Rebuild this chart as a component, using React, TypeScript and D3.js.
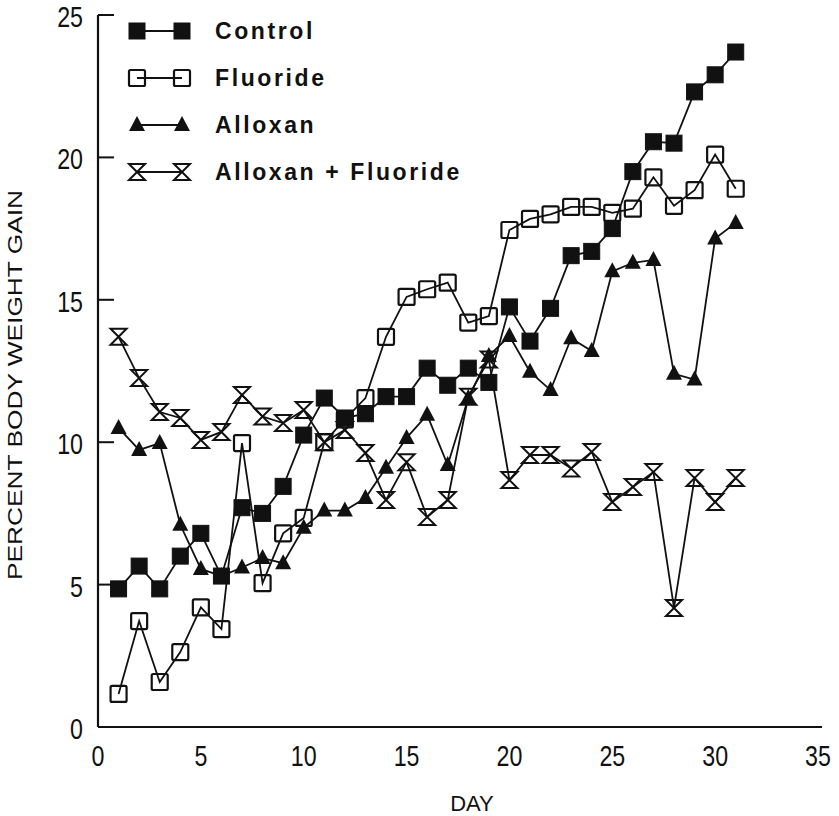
import React from "react";
import * as d3 from "d3";

// values (percent body weight gain per day)
const days = [1, 2, 3, 4, 5, 6, 7, 8, 9, 10, 11, 12, 13, 14, 15, 16, 17, 18, 19, 20, 21, 22, 23, 24, 25, 26, 27, 28, 29, 30, 31];
const control = [4.85, 5.65, 4.85, 6.0, 6.8, 5.3, 7.7, 7.5, 8.45, 10.25, 11.55, 10.85, 11.0, 11.6, 11.6, 12.6, 12.0, 12.6, 12.1, 14.75, 13.55, 14.7, 16.55, 16.7, 17.5, 19.5, 20.55, 20.5, 22.3, 22.9, 23.7];
const fluoride = [1.16, 3.72, 1.58, 2.63, 4.2, 3.44, 9.97, 5.05, 6.8, 7.34, 10.0, 10.8, 11.55, 13.7, 15.1, 15.37, 15.6, 14.2, 14.43, 17.45, 17.84, 18.0, 18.26, 18.26, 18.05, 18.2, 19.3, 18.3, 18.85, 20.1, 18.9];
const alloxan = [10.5, 9.73, 9.97, 7.1, 5.55, 5.3, 5.6, 5.93, 5.75, 7.0, 7.6, 7.6, 8.04, 9.1, 10.15, 10.96, 9.2, 11.55, 13.03, 13.73, 12.47, 11.83, 13.65, 13.2, 16.0, 16.3, 16.4, 12.4, 12.2, 17.15, 17.7];
const alloxanFluoride = [13.7, 12.25, 11.06, 10.85, 10.08, 10.36, 11.66, 10.9, 10.67, 11.13, 10.0, 10.43, 9.62, 7.97, 9.3, 7.37, 7.97, 11.6, 12.9, 8.67, 9.55, 9.55, 9.08, 9.66, 7.9, 8.43, 8.95, 4.18, 8.74, 7.9, 8.74];

const seriesNames = ["Control", "Fluoride", "Alloxan", "Alloxan + Fluoride"];
const xTicks = [0, 5, 10, 15, 20, 25, 30, 35];
const yTicks = [0, 5, 10, 15, 20, 25];

const W = 839;
const H = 816;
const sans = "'Liberation Sans', Arial, sans-serif";

const x = d3.scaleLinear().domain([0, 35]).range([98, 818]);
const y = d3.scaleLinear().domain([0, 25]).range([727, 15]);

// marker drawing per series
const Marker = ({ kind, cx, cy }: { kind: number; cx: number; cy: number }) => {
  if (kind === 0)
    return <rect x={cx - 8} y={cy - 8} width={16} height={16} fill="#111" stroke="#111" strokeWidth={1} />;
  if (kind === 1)
    return <rect x={cx - 8} y={cy - 8} width={16} height={16} rx={1.5} fill="none" stroke="#111" strokeWidth={2.2} />;
  if (kind === 2)
    return <path d={`M${cx},${cy - 9}L${cx + 8},${cy + 6}L${cx - 8},${cy + 6}Z`} fill="#111" />;
  return (
    <path
      d={`M${cx - 8},${cy - 8}H${cx + 8}L${cx - 8},${cy + 8}H${cx + 8}Z`}
      fill="none"
      stroke="#111"
      strokeWidth={2}
      strokeLinejoin="miter"
    />
  );
};

// condensed numerals like the original tick labels
const Num = ({ tx, ty, anchor, v }: { tx: number; ty: number; anchor: string; v: number }) => (
  <text
    transform={`translate(${tx},${ty}) scale(0.8,1)`}
    textAnchor={anchor}
    fontFamily={sans}
    fontSize={29}
    fill="#111"
  >
    {v}
  </text>
);

export default function App() {
  const all = [control, fluoride, alloxan, alloxanFluoride];
  const line = d3
    .line<number>()
    .x((_, i) => x(days[i]))
    .y((d) => y(d));

  return (
    <svg width={W} height={H} style={{ position: "absolute", left: 0, top: 0, background: "#fff" }}>
      {/* axes */}
      <line x1={x(0)} x2={x(0)} y1={y(25)} y2={y(0)} stroke="#111" strokeWidth={2.2} />
      <line x1={x(0)} x2={822} y1={y(0)} y2={y(0)} stroke="#111" strokeWidth={2.2} />
      {yTicks.map((t) => (
        <g key={t}>
          {t > 0 && <line x1={x(0)} x2={x(0) + 16} y1={y(t)} y2={y(t)} stroke="#111" strokeWidth={2} />}
          <Num tx={83} ty={y(t) + 12} anchor="end" v={t} />
        </g>
      ))}
      {xTicks.map((t) => (
        <Num key={t} tx={x(t)} ty={766} anchor="middle" v={t} />
      ))}
      <text x={472} y={811} textAnchor="middle" fontFamily={sans} fontSize={22} fill="#111">
        DAY
      </text>
      <text
        transform="translate(22,385) rotate(-90)"
        textAnchor="middle"
        fontFamily={sans}
        fontSize={20}
        textLength={390}
        lengthAdjust="spacingAndGlyphs"
        fill="#111"
      >
        PERCENT BODY WEIGHT GAIN
      </text>

      {/* series */}
      {all.map((s, k) => (
        <g key={k}>
          <path d={line(s) || ""} fill="none" stroke="#111" strokeWidth={1.8} />
          {s.map((v, i) => (
            <Marker key={i} kind={k} cx={x(days[i])} cy={y(v)} />
          ))}
        </g>
      ))}

      {/* legend */}
      {seriesNames.map((n, k) => {
        const ly = 31 + k * 47;
        return (
          <g key={n}>
            <line x1={137} x2={182} y1={ly} y2={ly} stroke="#111" strokeWidth={1.8} />
            <Marker kind={k} cx={137} cy={ly} />
            <Marker kind={k} cx={182} cy={ly} />
            <text
              x={215}
              y={ly + 8}
              fontFamily={sans}
              fontSize={23}
              fontWeight={700}
              letterSpacing={2.6}
              fill="#111"
            >
              {n}
            </text>
          </g>
        );
      })}
    </svg>
  );
}
